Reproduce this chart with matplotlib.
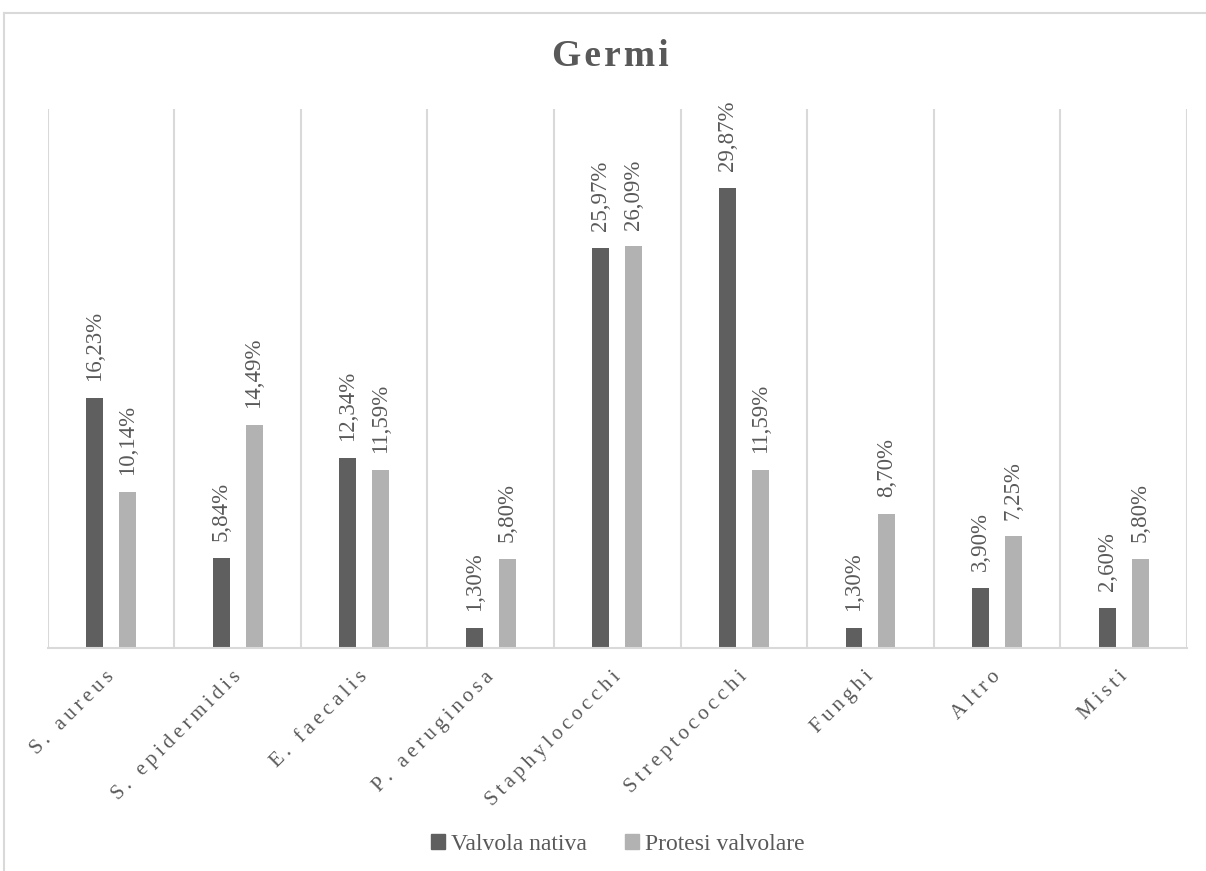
import numpy as np
import matplotlib
matplotlib.use("Agg")
import matplotlib.pyplot as plt
import matplotlib.transforms as mtransforms
from matplotlib.lines import Line2D

plt.rcParams["font.family"] = ["Liberation Serif", "DejaVu Serif"]

categories = ["S. aureus", "S. epidermidis", "E. faecalis", "P. aeruginosa",
              "Staphylococchi", "Streptococchi", "Funghi", "Altro", "Misti"]
nativa = [16.23, 5.84, 12.34, 1.30, 25.97, 29.87, 1.30, 3.90, 2.60]
protesi = [10.14, 14.49, 11.59, 5.80, 26.09, 11.59, 8.70, 7.25, 5.80]
series_names = ["Valvola nativa", "Protesi valvolare"]

dark = "#5f5f5f"
light = "#b2b2b2"
text_col = "#595959"
line_col = "#d9d9d9"


def spaced(s, sep="\u2009"):
    return sep.join(s)


fig = plt.figure(figsize=(12.06, 8.71), dpi=100)

# outer chart frame (top and left edges)
fig.add_artist(Line2D([4 / 1206, 1], [1 - 13 / 871, 1 - 13 / 871],
                      transform=fig.transFigure, color=line_col, lw=1.5))
fig.add_artist(Line2D([4 / 1206, 4 / 1206], [0, 1 - 13 / 871],
                      transform=fig.transFigure, color=line_col, lw=1.5))

ax = fig.add_axes([47.7 / 1206, 1 - 648 / 871, (1186.9 - 47.7) / 1206, (648 - 109) / 871])
x = np.arange(len(categories))
w = 0.134
off = 0.13
b1 = ax.bar(x - off, nativa, w, color=dark)
b2 = ax.bar(x + off, protesi, w, color=light)

for bars, vals in ((b1, nativa), (b2, protesi)):
    for rect, v in zip(bars, vals):
        ax.annotate(f"{v:.2f}%".replace(".", ","),
                    (rect.get_x() + rect.get_width() / 2, v),
                    xytext=(0, 12), textcoords="offset points",
                    rotation=90, ha="center", va="bottom",
                    fontsize=16.5, color=text_col)

ax.set_xlim(-0.5, len(categories) - 0.5)
ax.set_ylim(0, 35)
ax.set_yticks([])
for s in ("top", "left", "right"):
    ax.spines[s].set_visible(False)
ax.spines["bottom"].set_color(line_col)
ax.spines["bottom"].set_linewidth(1.5)
ax.set_xticks(np.arange(-0.5, len(categories), 1), minor=True)
ax.grid(which="minor", axis="x", color=line_col, lw=1.5)
ax.tick_params(which="both", length=0)
ax.set_xticks(x)
ax.set_xticklabels([spaced(c) for c in categories], rotation=45, ha="right",
                   va="top", rotation_mode="anchor", fontsize=15, color=text_col)
ax.tick_params(axis="x", pad=14)
shift = mtransforms.ScaledTranslation(-6 / 100, 0, fig.dpi_scale_trans)
for lab in ax.get_xticklabels():
    lab.set_transform(lab.get_transform() + shift)
ax.set_axisbelow(True)

fig.text(610 / 1206, 1 - 57 / 871, spaced("Germi", "\u200a"), ha="center", va="center",
         fontsize=27, fontweight="bold", color=text_col)

handles = [plt.Rectangle((0, 0), 1, 1, color=dark), plt.Rectangle((0, 0), 1, 1, color=light)]
fig.legend(handles, series_names, loc="center", bbox_to_anchor=(618 / 1206, 27 / 871),
           ncol=2, frameon=False, fontsize=17, labelcolor=text_col,
           handlelength=0.6, handleheight=0.6, handletextpad=0.25, columnspacing=1.6)

fig.savefig("out.png", dpi=100)
